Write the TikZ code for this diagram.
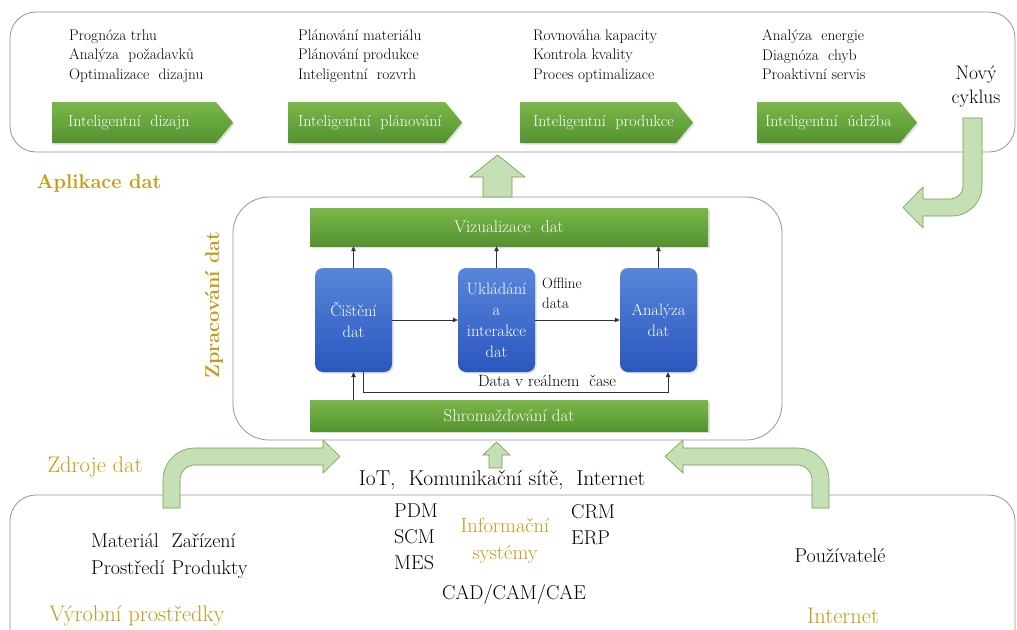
\documentclass[tikz,border=0pt]{standalone}
\usetikzlibrary{arrows.meta,calc,shadows}
\definecolor{gold}{RGB}{198,155,22}
\definecolor{gtop}{RGB}{122,184,74}
\definecolor{gbot}{RGB}{84,146,48}
\definecolor{btop}{RGB}{88,134,218}
\definecolor{bbot}{RGB}{42,86,190}
\definecolor{lgreen}{RGB}{197,224,180}
\definecolor{lgline}{RGB}{112,160,80}
\definecolor{panelline}{RGB}{150,150,150}
\newcommand{\fs}[2]{\fontsize{#1}{#2}\selectfont}
\begin{document}
\begin{tikzpicture}[x=1pt,y=1pt,
 panel/.style={draw=panelline, line width=0.8pt},
 gfill/.style={top color=gtop, bottom color=gbot, draw=none, drop shadow={opacity=0.25,shadow xshift=1.5pt,shadow yshift=-1.5pt}},
 gbar/.style={gfill, inner sep=0pt, text=white, font=\fs{17}{20}},
 gtxt/.style={anchor=west, inner sep=0pt, text=white, font=\fs{16}{20}},
 bbox/.style={rounded corners=8pt, top color=btop, bottom color=bbot, draw=none, text=white, align=center, font=\fs{16.5}{21}, minimum width=77pt, minimum height=104pt, inner sep=0pt, drop shadow={opacity=0.25,shadow xshift=1.5pt,shadow yshift=-1.5pt}},
 conn/.style={-{Triangle[length=5pt,width=4.5pt]}, line width=0.7pt, draw=black!80},
 fat/.style={fill=lgreen, draw=lgline, line width=0.6pt},
 lst/.style={inner sep=0pt, align=left, anchor=north west, font=\fs{15.3}{19.5}},
 btxt/.style={inner sep=0pt, font=\fs{20}{26}},
 glbl/.style={inner sep=0pt, text=gold, font=\fs{22.5}{26}},
 gbold/.style={inner sep=0pt, text=gold, font=\bfseries\fs{20}{24}},
]
\useasboundingbox (0,0) rectangle (1017,-629);
\fill[white] (0,0) rectangle (1017,-629);
\clip (0,0) rectangle (1017,-629);

% panels
\draw[panel, rounded corners=26pt] (10,-12) rectangle (1015,-152);
\draw[panel, rounded corners=36pt] (233,-197) rectangle (782,-440);
\draw[panel, rounded corners=26pt] (10,-495) rectangle (1015,-690);

% top lists
\node[lst] (c1) at (69,-29.5) {Prognóza trhu\\Analýza~ požadavků\\Optimalizace~ dizajnu};
\node[lst] (c2) at (298,-29.5) {Plánování materiálu\\Plánování produkce\\Inteligentní~ rozvrh};
\node[lst] (c3) at (533,-29.5) {Rovnováha kapacity\\Kontrola kvality\\Proces optimalizace};
\node[lst] (c4) at (762,-29.5) {Analýza~ energie\\Diagnóza~ chyb\\Proaktivní servis};
\node[inner sep=0pt, align=center, font=\fs{19.5}{24}] (nc) at (976,-87) {Nový\\cyklus};

% green pentagons
\path[gfill] (52,-102) -- (216,-102) -- (233,-122.5) -- (216,-143) -- (52,-143) -- cycle;
\path[gfill] (288,-102) -- (445,-102) -- (462,-122.5) -- (445,-143) -- (288,-143) -- cycle;
\path[gfill] (520,-102) -- (676,-102) -- (693,-122.5) -- (676,-143) -- (520,-143) -- cycle;
\path[gfill] (757,-102) -- (900,-102) -- (917,-122.5) -- (900,-143) -- (757,-143) -- cycle;
\node[gtxt] (p1) at (68,-122.5) {Inteligentní~ dizajn};
\node[gtxt] (p2) at (298,-122.5) {Inteligentní~ plánování};
\node[gtxt] (p3) at (533,-122.5) {Inteligentní~ produkce};
\node[gtxt] (p4) at (765,-122.5) {Inteligentní~ údržba};

% fat arrows
\path[fat] (483,-197) -- (483,-177) -- (470,-177) -- (497.5,-155) -- (525,-177) -- (512,-177) -- (512,-197) -- cycle;
\path[fat] (982,-118) -- (982,-186) arc[start angle=0,end angle=-90,radius=30] -- (923,-216) -- (923,-228) -- (903,-207.5) -- (923,-187) -- (923,-199) -- (950,-199) arc[start angle=-90,end angle=0,radius=13] -- (963,-118) -- cycle;
\path[fat] (163,-508) -- (163,-480) arc[start angle=180,end angle=90,radius=32] -- (323,-448) -- (323,-440) -- (340,-456.5) -- (323,-473) -- (323,-465) -- (195,-465) arc[start angle=90,end angle=180,radius=15] -- (180,-508) -- cycle;
\path[fat] (829,-508) -- (829,-480) arc[start angle=0,end angle=90,radius=32] -- (683,-448) -- (683,-440) -- (665,-456.5) -- (683,-473) -- (683,-465) -- (797,-465) arc[start angle=90,end angle=0,radius=15] -- (812,-508) -- cycle;
\path[fat] (489,-468) -- (489,-455) -- (483,-455) -- (496.5,-442) -- (510,-455) -- (502,-455) -- (502,-468) -- cycle;

% gold labels
\node[gbold] (apl) at (99,-183) {Aplikace dat};
\node[gbold, rotate=90] (zpr) at (214,-305) {Zpracování dat};
\node[glbl] (zdr) at (95,-467) {Zdroje dat};
\node[glbl] (vyr) at (137,-616) {Výrobní prostředky};
\node[glbl] (int) at (843,-616) {Internet};
\node[inner sep=0pt, text=gold, align=center, font=\fs{20.5}{27}] (inf) at (505,-541) {Informační\\systémy};

% middle part
\node[gbar, minimum width=398pt, minimum height=38pt] (viz) at (509,-227) {Vizualizace~ dat};
\node[gbar, minimum width=398pt, minimum height=31pt] (shr) at (509,-416) {Shromažďování dat};
\node[bbox] (cis) at (353.5,-320) {Čištění\\dat};
\node[bbox] (ukl) at (496.5,-320) {Ukládání\\a\\interakce\\dat};
\node[bbox] (ana) at (658.5,-320) {Analýza\\dat};
\draw[conn] (cis.north) -- (cis.north |- viz.south);
\draw[conn] (ukl.north) -- (ukl.north |- viz.south);
\draw[conn] (ana.north) -- (ana.north |- viz.south);
\draw[conn] (cis.east) -- (ukl.west);
\draw[conn] (ukl.east) -- (ana.west);
\draw[conn] (cis.south |- shr.north) -- (cis.south);
\draw[conn] ($(cis.south)+(9.5,0)$) -- ++(0,-20) -| ($(ana.south)+(9.5,0)$);
\node[inner sep=0pt, align=left, anchor=north west, font=\fs{15}{20}] (off) at (542,-278) {Offline\\data};
\node[inner sep=0pt, font=\fs{16.3}{20}] (rt) at (547,-381) {Data v reálnem~ čase};

% bottom texts
\node[btxt, font=\fs{21.5}{26}] (iot) at (502,-480) {IoT,~ Komunikační sítě,~ Internet};
\node[btxt, anchor=west] (mat) at (91,-556) {\begin{tabular}{@{}l@{\hspace{7pt}}l@{}}Materiál & Zařízení\\[1pt] Prostředí & Produkty\end{tabular}};
\node[btxt, align=left, anchor=north west] (pdm) at (394,-504) {PDM\\SCM\\MES};
\node[btxt, align=left, anchor=north west] (crm) at (571,-504) {CRM\\ERP};
\node[btxt] (cad) at (514,-594) {CAD/CAM/CAE};
\node[btxt] (pou) at (840,-556) {Používatelé};
\end{tikzpicture}
\end{document}
